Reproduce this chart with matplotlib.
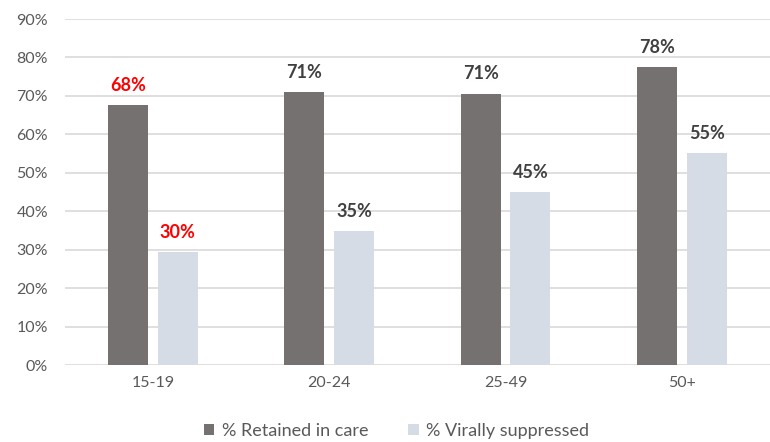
import matplotlib
matplotlib.use("Agg")
import matplotlib.pyplot as plt
import numpy as np

categories = ["15-19", "20-24", "25-49", "50+"]
retained = [67.7, 71.1, 70.6, 77.6]
suppressed = [29.4, 34.9, 45.1, 55.2]
retained_labels = ["68%", "71%", "71%", "78%"]
suppressed_labels = ["30%", "35%", "45%", "55%"]
label_colors_retained = ["#FF0000", "#404040", "#404040", "#404040"]
label_colors_suppressed = ["#FF0000", "#404040", "#404040", "#404040"]

plt.rcParams['font.family'] = ['Lato', 'DejaVu Sans']

fig = plt.figure(figsize=(7.7, 4.42), dpi=100)
ax = fig.add_axes([0.084, 0.174, 0.916, 0.783])

x = np.arange(len(categories))
w = 0.226
gap = 0.056
b1 = ax.bar(x - (w + gap) / 2, retained, w, color="#767171", label="% Retained in care", zorder=3)
b2 = ax.bar(x + (w + gap) / 2, suppressed, w, color="#D6DCE5", label="% Virally suppressed", zorder=3)

for xi, v, t, c in zip(x - (w + gap) / 2, retained, retained_labels, label_colors_retained):
    ax.annotate(t, (xi, v), xytext=(0, 8), textcoords="offset points", ha="center", va="bottom",
                fontsize=13, fontweight="bold", color=c)
for xi, v, t, c in zip(x + (w + gap) / 2, suppressed, suppressed_labels, label_colors_suppressed):
    ax.annotate(t, (xi, v), xytext=(0, 8), textcoords="offset points", ha="center", va="bottom",
                fontsize=13, fontweight="bold", color=c)

ax.set_ylim(0, 90)
ax.set_yticks(np.arange(0, 91, 10))
ax.set_yticklabels([f"{v}%" for v in range(0, 91, 10)])
ax.set_xlim(-0.5, len(categories) - 0.5)
ax.set_xticks(x)
ax.set_xticklabels(categories)
ax.yaxis.grid(True, color="#D9D9D9", linewidth=1.2, zorder=0)
ax.set_axisbelow(True)
for s in ax.spines.values():
    s.set_visible(False)
ax.tick_params(axis="both", length=0, labelsize=11.5, colors="#595959", pad=8)
ax.tick_params(axis="y", pad=12)

leg = ax.legend(loc="upper center", bbox_to_anchor=(0.47, -0.12), ncol=2, frameon=False,
                fontsize=13, handlelength=0.6, handleheight=0.6, handletextpad=0.4,
                columnspacing=2.2)
for t in leg.get_texts():
    t.set_color("#595959")

fig.savefig("out.png", dpi=100)
